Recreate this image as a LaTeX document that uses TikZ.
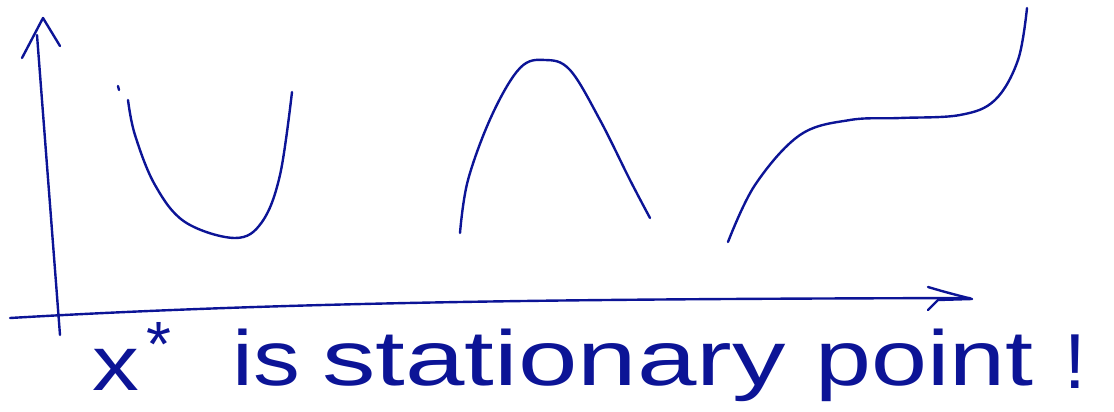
\documentclass[tikz,border=0pt]{standalone}
\usepackage{fontspec}
\setmainfont{Liberation Sans}
\usetikzlibrary{positioning}
\definecolor{ink}{RGB}{12,20,150}

\begin{document}
\begin{tikzpicture}[x=1pt, y=-1pt,
    pen/.style={draw=ink, line width=2.4pt, line cap=round, line join=round},
    word/.style={text=ink, inner sep=0pt, anchor=base west,
                 font=\fontsize{78}{78}\selectfont}
]
  \useasboundingbox (0,0) rectangle (1114,412);

  % axes, drawn by hand
  \draw[pen] (60,335) -- (37,35);
  \draw[pen] (22,58) -- (43,18) -- (60,46);
  \draw[pen] (10,318) .. controls (300,301) and (600,299) .. (970,298);
  \draw[pen] (928,287) .. controls (945,292) .. (972,299) -- (938,300) -- (928,310);

  % minimum
  \draw[pen] (118,86) -- (119,90);
  \draw[pen] plot[smooth, tension=0.6] coordinates
    {(128,100) (135,135) (155,185) (185,222) (235,238) (262,222) (280,175) (292,92)};
  % maximum
  \draw[pen] plot[smooth, tension=0.6] coordinates
    {(460,233) (468,180) (492,115) (520,68) (545,60) (570,70) (600,120) (630,180) (650,218)};
  % saddle
  \draw[pen] plot[smooth, tension=0.6] coordinates
    {(728,242) (755,185) (800,135) (850,120) (900,118) (960,115) (995,100) (1018,60) (1027,8)};

  % label
  \node[word, xscale=1.2] (xs) at (92,390) {x};
  \node[word, font=\fontsize{64}{64}\selectfont, anchor=north west] (star) at (146,322) {*};
  \node[word, xscale=1.2] (is) at (232,385) {is};
  \node[word, xscale=1.37] (st) at (322,385) {stationary};
  \node[word, xscale=1.29] (pt) at (815,385) {point};
  \node[word] (ex) at (1064,388) {!};
\end{tikzpicture}
\end{document}
